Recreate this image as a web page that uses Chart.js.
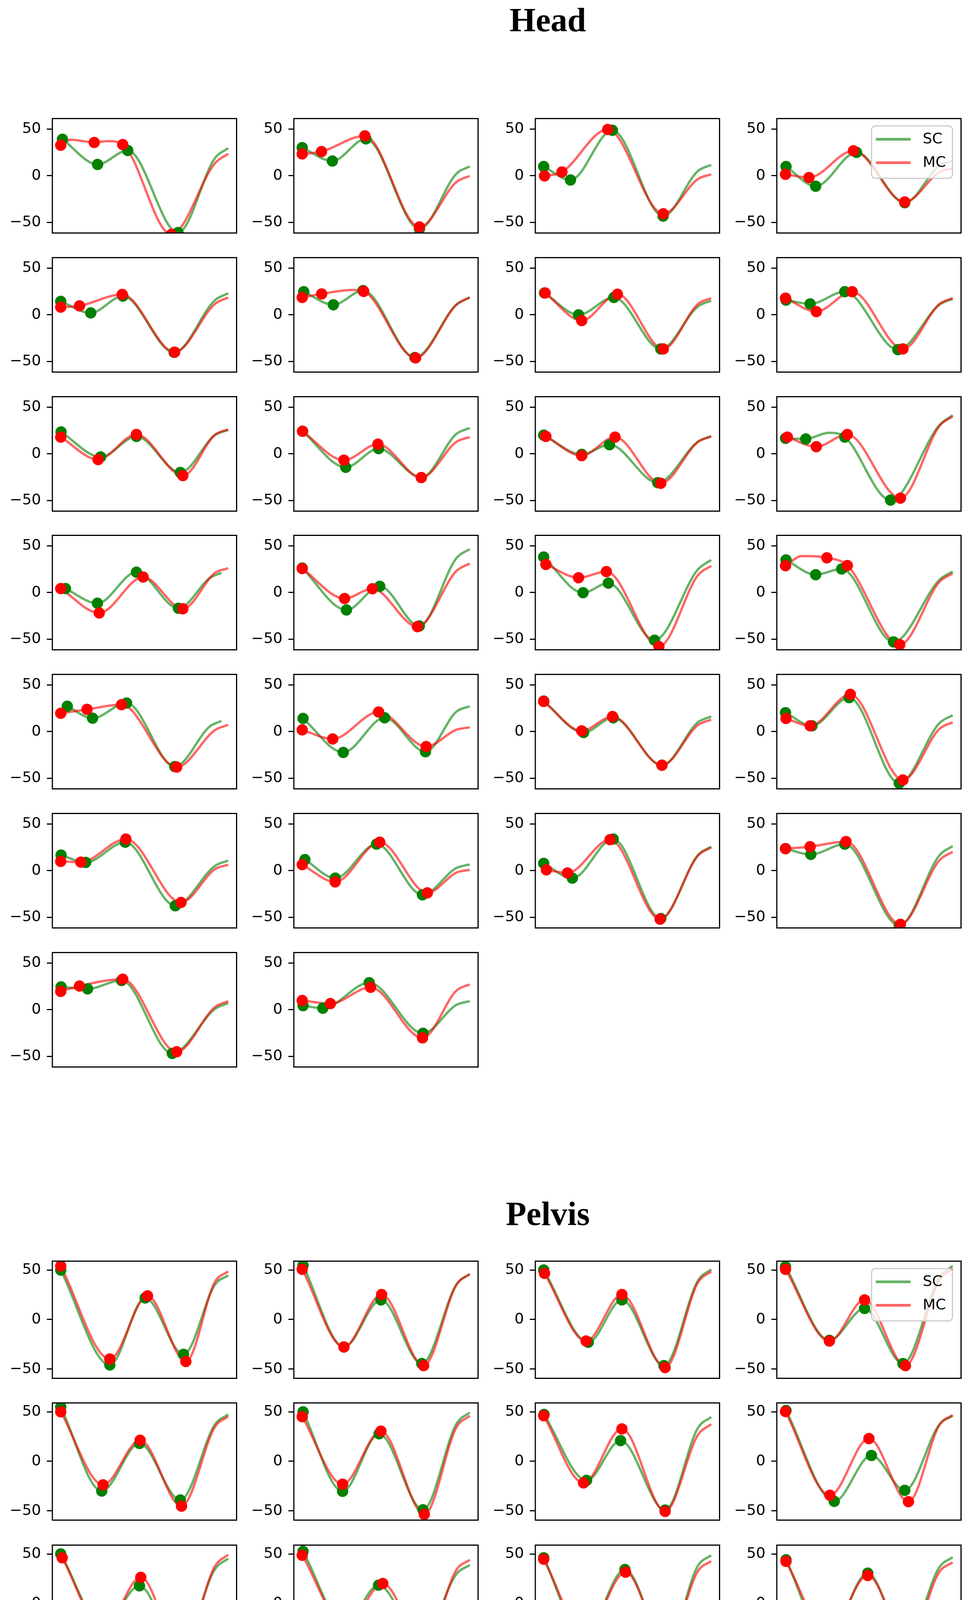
<!DOCTYPE html>
<html>
<head>
<meta charset="utf-8">
<script src="https://cdn.jsdelivr.net/npm/chart.js@4.4.0/dist/chart.umd.min.js"></script>
<style>
	body { margin: 0; background: #fff; }
	#page { position: relative; width: 2485px; height: 4650px; overflow: hidden; background: #fff; }
	.suptitle { position: absolute; font: bold 86px 'Liberation Serif', serif; line-height: 86px; white-space: nowrap; transform: translateX(-50%); }
	canvas { position: absolute; }
</style>
</head>
<body>
<div id="page">
	<div class="suptitle" style="left:1402px; top:8px;">Head</div>
	<div class="suptitle" style="left:1402px; top:3064px;">Pelvis</div>
</div>
<script>
// y tick labels shared by every panel
const yTicks = [-50, 0, 50];
const seriesNames = ['SC', 'MC'];

// Head: keyframe dots [x, y] per panel (x in 0..100)
const headScDots = [
	[[1,39],[22,12],[40,27],[70,-61]],
	[[0,30],[18,15.7],[38,39.4],[70,-57]],
	[[0,9.8],[16,-4.6],[41,48.6],[71.3,-43.4]],
	[[0.5,9.8],[18.2,-11.3],[42.6,25],[71.4,-29]],
	[[0,14.3],[17.9,1.9],[37.1,19.9],[67.7,-40.4]],
	[[0.9,24.7],[18.6,10.6],[36.3,25.8],[67.3,-45.9]],
	[[0.5,23.3],[20.8,-0.1],[41.9,18.5],[69.9,-36.7]],
	[[0.5,15.7],[14.9,11.6],[35.6,24.7],[67.3,-37.4]],
	[[0.2,23.4],[23.8,-3.4],[45.2,18.6],[71.4,-20]],
	[[0.2,24.1],[26,-14.5],[45.6,5.5],[71.1,-25.5]],
	[[0,20],[22.7,-0.7],[39.3,9.7],[68.1,-31]],
	[[0.2,16.6],[12.3,15.9],[35.6,17.9],[62.9,-49.7]],
	[[2.8,4.1],[21.9,-11.6],[45.2,21.7],[70.3,-17]],
	[[0,26.1],[26.4,-18.8],[46.3,6.6],[69.9,-36]],
	[[0,38],[23.5,-0.3],[38.6,10],[66.2,-51.2]],
	[[0.5,34.8],[18.2,19],[33.7,25.2],[64.7,-53]],
	[[3.9,27.1],[19,14.3],[39.3,30.5],[68.1,-37.6]],
	[[0.5,14],[24.5,-22.4],[49.2,14.7],[73.6,-21.7]],
	[[0,32.6],[23.8,-1.1],[41.5,14.7],[70.6,-36.2]],
	[[0.2,20.2],[16,6.1],[38.2,36.3],[68.1,-55.4]],
	[[0.2,16.6],[14.9,8.8],[38.5,30.4],[68.4,-37.7]],
	[[1.6,11.8],[19.7,-8.1],[44.4,28.3],[71.8,-26]],
	[[0,7.7],[17.1,-8.1],[41.5,33.8],[69.9,-51.4]],
	[[0.2,23.5],[15.3,17.3],[35.6,28.3],[68.1,-59]],
	[[0.2,24.3],[16,22.3],[36.3,31.3],[66.6,-46.9]],
	[[0.5,4.3],[12.3,1.5],[40,28.8],[72.1,-25.4]]
];
// Head: other points (between / after the dots)
const headScCurve = [
	[[92,18.6],[100,29.5]], [[92,2],[100,10]], [[92,4.9],[100,11.5]], [[92,10.6],[100,16]],
	[[92,15.4],[100,23]], [[92,10.8],[100,18.5]], [[92,8.8],[100,15]], [[92,10.6],[100,17.1]],
	[[92,20],[100,25.5]], [[92,21.2],[100,27.6]], [[92,12.9],[100,18.9]], [[26,22.5],[92,30.5],[100,41.4]],
	[[89,15.5],[96,21]], [[92,36.6],[100,46.5]], [[92,24.5],[100,34.8]], [[92,13.3],[100,22.4]],
	[[89,5.4],[96,11.3]], [[92,21.2],[100,27.1]], [[92,9.8],[100,16.1]], [[92,8.8],[100,17.5]],
	[[92,4.9],[100,10.7]], [[92,2.7],[100,6.6]], [[92,16.4],[100,25.6]], [[92,16.1],[100,26.3]],
	[[92,0.6],[100,7.1]], [[92,5],[100,9.1]]
];
const headMcDots = [
	[[0,32.6],[20,35.6],[37,33.4],[66,-63]],
	[[0,23.3],[11.5,25.8],[37.4,42.7],[70,-55]],
	[[0.5,-0.3],[10.9,3.9],[38.2,49.5],[71.4,-40.9]],
	[[0.2,1.4],[14.2,-2],[40.8,26.7],[71.4,-28.2]],
	[[0,8.1],[11.2,9.5],[36.7,21.7],[68,-40.1]],
	[[0,18.5],[11.6,22.3],[36.7,25],[67.7,-46.3]],
	[[0.9,23.3],[22.7,-6.3],[44,21.9],[71.4,-36.7]],
	[[0.2,17.8],[18.6,3.3],[40,24.7],[70.3,-36.7]],
	[[0,17.9],[22.3,-6.2],[45.2,20.7],[72.9,-23.4]],
	[[0.2,24.1],[24.9,-6.9],[45.2,10.3],[71.1,-25.5]],
	[[1.3,18.6],[22.7,-2],[42.6,17.9],[69.9,-31.7]],
	[[1.3,17.9],[18.6,7.6],[37.1,20.7],[68.8,-47.6]],
	[[0,4.1],[23,-22],[49.2,16.5],[72.9,-17.5]],
	[[0,25.6],[25.3,-6.5],[41.9,3.9],[68.8,-36.7]],
	[[1.3,30],[20.8,15.8],[37.4,22.4],[68.8,-58]],
	[[0.2,28.6],[24.9,37.1],[37.1,28.9],[68.4,-56]],
	[[0,19.5],[15.7,23.7],[36.3,28.7],[69.2,-38.2]],
	[[0,1.7],[18.2,-8],[45.6,20.9],[74,-16.2]],
	[[0,32.2],[22.7,0.7],[41.1,16.1],[70.6,-36.2]],
	[[0.5,14],[14.9,6.1],[38.9,39.8],[70.3,-52]],
	[[0,9.8],[12,9.1],[38.9,33.8],[71.8,-34.2]],
	[[0,6.3],[19.7,-12.2],[46.3,30.4],[74.7,-23.9]],
	[[1.6,0.8],[14.2,-2.6],[39.6,33.1],[69.5,-52.1]],
	[[0.2,23.5],[14.9,25.6],[36.3,31.1],[68.8,-57.6]],
	[[0,19.5],[11.2,25.3],[37,32.6],[69.2,-45.2]],
	[[0,9.8],[16.8,6.4],[40.8,23.9],[71.8,-30.3]]
];
const headMcCurve = [
	[[6,38.5],[28,37],[92,13.1],[100,23.5]], [[92,-6.9],[100,-0.3]], [[92,-3.7],[100,1.4]], [[92,3.7],[100,8]],
	[[92,11.5],[100,18.5]], [[30,26.5],[92,10.5],[100,18.5]], [[92,11.3],[100,17.8]], [[92,11.3],[100,17.8]],
	[[92,20.2],[100,26.2]], [[92,12.7],[100,17.9]], [[92,12.5],[100,18.6]], [[92,29.5],[100,40]],
	[[92,20.8],[100,26]], [[92,22.9],[100,31]], [[92,18.2],[100,28.6]], [[10,39],[92,11.2],[100,20.4]],
	[[92,1.4],[100,7.2]], [[92,1.9],[100,4.4]], [[92,6.8],[100,12.7]], [[92,2.6],[100,9.9]],
	[[92,1.4],[100,6.3]], [[92,-2.2],[100,0.8]], [[92,15.7],[100,24.9]], [[92,10.8],[100,20.1]],
	[[92,2.6],[100,9.1]], [[92,20.2],[100,27.1]]
];

// Pelvis
const pelvisScDots = [
	[[0,49.9],[29.3,-45.8],[50.4,21.8],[73.3,-35.1]],
	[[0.5,54.6],[24.9,-27.7],[47,19.8],[71.4,-44.4]],
	[[0,49.9],[26.6,-23],[46.7,19.8],[71.8,-46.5]],
	[[0.2,53.3],[26.4,-21],[47.4,11.1],[70.3,-44.4]],
	[[0,54.9],[24.5,-29.9],[47,18],[71.4,-39]],
	[[0.5,49.9],[24.1,-30.2],[45.9,27.8],[72.1,-48.9]],
	[[0.2,47.3],[25.6,-19.2],[45.9,20.9],[72.5,-49.2]],
	[[0.5,51.2],[29.3,-40.4],[51.5,5.9],[71.4,-29.3]],
	[[0,50],[25.3,-23.1],[47,17.8],[71,-47.4]],
	[[0.5,52.6],[25.3,-21.5],[45.6,18.5],[71.1,-37.9]],
	[[0,46.1],[23.8,-34.6],[48.5,34.3],[73.3,-42.5]],
	[[0.5,44.1],[24.9,-38.6],[49.3,30.6],[72.1,-38.6]],
	[[0.2,45.1],[24.9,-30.9],[47,21.5],[71.4,-42.1]],
	[[0.5,47.7],[26.4,-25.7],[48.1,19.5],[72.9,-42.7]],
	[[1.3,48.4],[25.3,-30.3],[47,30],[73.3,-40.8]]
];
const pelvisScCurve = [
	[[92,35],[100,44.6]], [[92,35.1],[100,45.9]], [[92,39],[100,50.6]], [[92,42.4],[100,54.2]],
	[[92,37],[100,47.3]], [[92,37.5],[100,49.3]], [[92,33.4],[100,44.7]], [[92,37],[100,46]],
	[[92,34.4],[100,45.4]], [[92,29.6],[100,38.8]], [[92,37.8],[100,48.7]], [[92,36.5],[100,46.7]],
	[[92,36.4],[100,47.1]], [[92,34],[100,44.4]], [[92,28.5],[100,37.9]]
];
const pelvisMcDots = [
	[[0,54],[29.3,-39.8],[51.8,23.8],[74.7,-42.4]],
	[[0,50.6],[24.9,-27.7],[47.4,25.2],[72.5,-46.5]],
	[[0.5,46.6],[25.3,-21.7],[46.7,25.2],[72.5,-48.5]],
	[[0.2,50.6],[26.4,-21.7],[47.4,19.8],[71.8,-46.5]],
	[[0,49.9],[25.3,-23.7],[47.4,21.3],[72.1,-45.2]],
	[[0,45],[24.1,-23.1],[47,30.4],[72.9,-53.5]],
	[[0,46],[23.8,-21.8],[46.7,32.7],[72.5,-50.5]],
	[[0.2,50.2],[26.7,-34.2],[50,22.9],[73.6,-40.7]],
	[[0.9,46.1],[25.3,-26.8],[47.8,26.4],[71.8,-49.7]],
	[[0,48.7],[26,-23.5],[48.1,20.2],[72.9,-41.9]],
	[[0,44.7],[24.6,-30.7],[48.9,31.6],[73.3,-43.2]],
	[[0.5,42.5],[25.6,-30.7],[49.3,28.3],[73.3,-39.2]],
	[[0,40.5],[24.5,-28.3],[48.1,28],[72.9,-45.3]],
	[[0,47],[25.6,-29],[48.5,24.8],[72.9,-43.1]],
	[[0,45.7],[25.3,-30.9],[48.1,28],[72.9,-43.4]]
];
const pelvisMcCurve = [
	[[92,37.7],[100,48.6]], [[92,34.9],[100,45.9]], [[92,37],[100,48.6]], [[92,39.6],[100,51.3]],
	[[92,34.5],[100,45.4]], [[92,34.1],[100,46]], [[92,26.4],[100,37.5]], [[92,36.4],[100,46.7]],
	[[92,37.4],[100,49.3]], [[92,33.8],[100,44.1]], [[92,32.5],[100,42.8]], [[92,31.8],[100,41.5]],
	[[92,36.5],[100,47.7]], [[92,35],[100,45.7]], [[92,38.5],[100,49.7]]
];

const page = document.getElementById('page');
const colLeft = [134, 752, 1370, 1988];
const boxW = 474;
const scLine = 'rgba(0,128,0,0.6)', mcLine = 'rgba(255,0,0,0.6)';

// axes frame, drawn over the lines like matplotlib spines
const framePlugin = {
	id: 'frame',
	afterDatasetsDraw(chart) {
		const a = chart.chartArea, c = chart.ctx;
		c.save();
		c.strokeStyle = '#000';
		c.lineWidth = 3;
		c.strokeRect(a.left, a.top, a.right - a.left, a.bottom - a.top);
		c.restore();
	}
};

// upper-right legend box
const boxLegend = {
	id: 'boxLegend',
	afterDraw(chart, args, opts) {
		if (!opts.show) return;
		const a = chart.chartArea, c = chart.ctx;
		const w = 207, h = 134;
		const x = a.right - 22 - w, y = a.top + 19;
		c.save();
		c.beginPath();
		c.roundRect(x, y, w, h, 10);
		c.fillStyle = 'rgba(255,255,255,0.8)';
		c.fill();
		c.strokeStyle = '#cccccc';
		c.lineWidth = 3;
		c.stroke();
		[scLine, mcLine].forEach((col, i) => {
			const ly = y + 34 + i * 60;
			c.strokeStyle = col;
			c.lineWidth = 7;
			c.beginPath();
			c.moveTo(x + 11, ly);
			c.lineTo(x + 100, ly);
			c.stroke();
			c.fillStyle = '#000';
			c.font = '38px "DejaVu Sans"';
			c.textBaseline = 'middle';
			c.fillText(seriesNames[i], x + 131, ly + 1);
		});
		c.restore();
	}
};

function toPts(arr) {
	return arr.map(p => ({x: p[0], y: p[1]}));
}

function curveOf(dots, extra) {
	return toPts(dots.concat(extra).sort((p, q) => p[0] - q[0]));
}

function makePanel(left, top, h, yMin, yMax, scD, scC, mcD, mcC, legend) {
	const padL = 130, padR = 12, padT = 12, padB = 12;
	const cv = document.createElement('canvas');
	cv.width = padL + boxW + padR;
	cv.height = padT + h + padB;
	cv.style.left = (left - padL) + 'px';
	cv.style.top = (top - padT) + 'px';
	cv.style.width = cv.width + 'px';
	cv.style.height = cv.height + 'px';
	page.appendChild(cv);

	new Chart(cv, {
		type: 'line',
		data: {
			datasets: [
				{ data: toPts(mcD), showLine: false, pointRadius: 14.5, pointHoverRadius: 14.5, pointBackgroundColor: '#ff0000', pointBorderWidth: 0, order: 0 },
				{ data: toPts(scD), showLine: false, pointRadius: 14.5, pointHoverRadius: 14.5, pointBackgroundColor: '#008000', pointBorderWidth: 0, order: 1 },
				{ data: curveOf(mcD, mcC), borderColor: mcLine, borderWidth: 6, pointRadius: 0, cubicInterpolationMode: 'monotone', fill: false, order: 2 },
				{ data: curveOf(scD, scC), borderColor: scLine, borderWidth: 6, pointRadius: 0, cubicInterpolationMode: 'monotone', fill: false, order: 3 }
			]
		},
		options: {
			responsive: false,
			animation: false,
			devicePixelRatio: 1,
			events: [],
			layout: { padding: { top: padT, bottom: padB, right: padR, left: 0 } },
			scales: {
				x: { type: 'linear', min: -5, max: 105, display: false },
				y: {
					min: yMin,
					max: yMax,
					afterFit: (s) => { s.width = padL; s.paddingTop = 0; s.paddingBottom = 0; },
					afterBuildTicks: (s) => { s.ticks = yTicks.map(v => ({value: v})); },
					ticks: {
						color: '#000',
						padding: 15,
						font: { family: 'DejaVu Sans', size: 38 },
						callback: (v) => String(v).replace('-', '\u2212')
					},
					grid: { display: true, drawOnChartArea: false, drawTicks: true, tickLength: 14, tickWidth: 3, tickColor: '#000' },
					border: { display: false }
				}
			},
			plugins: {
				legend: { display: false },
				tooltip: { enabled: false },
				boxLegend: { show: legend }
			}
		},
		plugins: [framePlugin, boxLegend]
	});
}

headScDots.forEach((d, i) => {
	const r = Math.floor(i / 4), c = i % 4;
	makePanel(colLeft[c], 301 + r * 355.8, 298, -61.5, 61.2,
		d, headScCurve[i], headMcDots[i], headMcCurve[i], i === 3);
});

pelvisScDots.forEach((d, i) => {
	const r = Math.floor(i / 4), c = i % 4;
	makePanel(colLeft[c], 3226 + r * 363.3, 305, -59.3, 58.9,
		d, pelvisScCurve[i], pelvisMcDots[i], pelvisMcCurve[i], i === 3);
});
</script>
</body>
</html>
